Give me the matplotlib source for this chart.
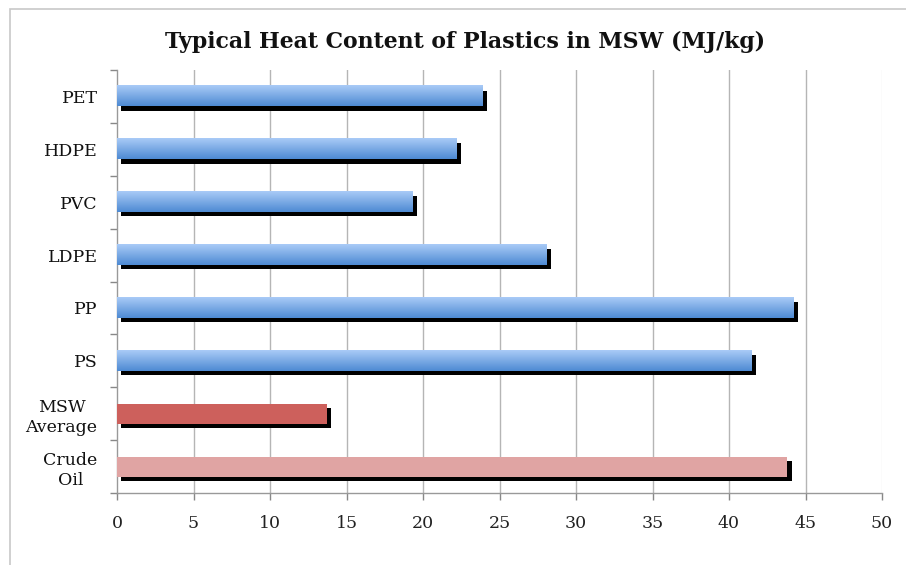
import numpy as np
import matplotlib
matplotlib.use("Agg")
import matplotlib.pyplot as plt
import matplotlib.patheffects as pe
from matplotlib.patches import Rectangle

categories = ["PET", "HDPE", "PVC", "LDPE", "PP", "PS", "MSW\nAverage", "Crude\nOil"]
values = [23.9, 22.2, 19.3, 28.1, 44.2, 41.5, 13.7, 43.8]
bar_colors = ["grad", "grad", "grad", "grad", "grad", "grad", "#cd605c", "#e0a4a3"]
x_ticks = [0, 5, 10, 15, 20, 25, 30, 35, 40, 45, 50]

plt.rcParams['font.family'] = ['DejaVu Serif']

fig = plt.figure(figsize=(9.06, 5.65), dpi=100)
ax = fig.add_axes([117 / 906, 1 - 493 / 565, 765 / 906, 423 / 565])

# outer frame like the original chart box
fig.patches.append(Rectangle((10 / 906, -0.1), 1.2, (565 - 9) / 565 + 0.1,
                             transform=fig.transFigure, fill=False,
                             edgecolor="#c8c8c8", linewidth=1.2))

n = len(categories)
ypos = np.arange(n)[::-1]
bh = 0.38

# blue gradient, light on top -> darker at bottom
grad = np.linspace(0, 1, 64).reshape(-1, 1)
cmap = matplotlib.colors.LinearSegmentedColormap.from_list("b", ["#a9cbf7", "#4e8ad3"])

shadow = [pe.SimplePatchShadow(offset=(3.2, -3.0), shadow_rgbFace="black", alpha=1.0), pe.Normal()]

for y, v, c in zip(ypos, values, bar_colors):
    face = "#6fa0e0" if c == "grad" else c
    bars = ax.barh(y, v, height=bh, color=face, edgecolor="none", zorder=3)
    bars[0].set_path_effects(shadow)
    if c == "grad":
        ax.imshow(grad, cmap=cmap, aspect="auto", zorder=3.5, origin="upper",
                  extent=(0, v, y - bh / 2, y + bh / 2), interpolation="bilinear")

ax.set_xlim(0, 50)
ax.set_ylim(-0.5, n - 0.5)

ax.set_xticks(x_ticks)
ax.set_xticklabels([str(t) for t in x_ticks], fontsize=12.5, color="#222222")
ax.tick_params(axis="x", length=5, width=1, color="#888888", pad=10.5)

ax.set_yticks(ypos)
ax.set_yticklabels(categories, fontsize=12.5, color="#111111", linespacing=1.25)
for lab in ax.get_yticklabels():
    lab.set_multialignment("center")
ax.tick_params(axis="y", which="major", length=0, pad=14)
ax.set_yticks(np.arange(-0.5, n, 1.0), minor=True)
ax.tick_params(axis="y", which="minor", length=5, width=1, color="#888888")

for gx in x_ticks[1:-1]:
    ax.axvline(gx, color="#b5b5b5", linewidth=1, zorder=1)
ax.axvline(50, color="#ececec", linewidth=1, zorder=1)

for s in ["top", "right"]:
    ax.spines[s].set_visible(False)
for s in ["left", "bottom"]:
    ax.spines[s].set_color("#999999")
    ax.spines[s].set_linewidth(1)

fig.text(465 / 906, 1 - 42 / 565, "Typical Heat Content of Plastics in MSW (MJ/kg)",
         ha="center", va="center", fontsize=15.8, fontweight="bold", color="#111111")

fig.savefig("out.png", dpi=100)
